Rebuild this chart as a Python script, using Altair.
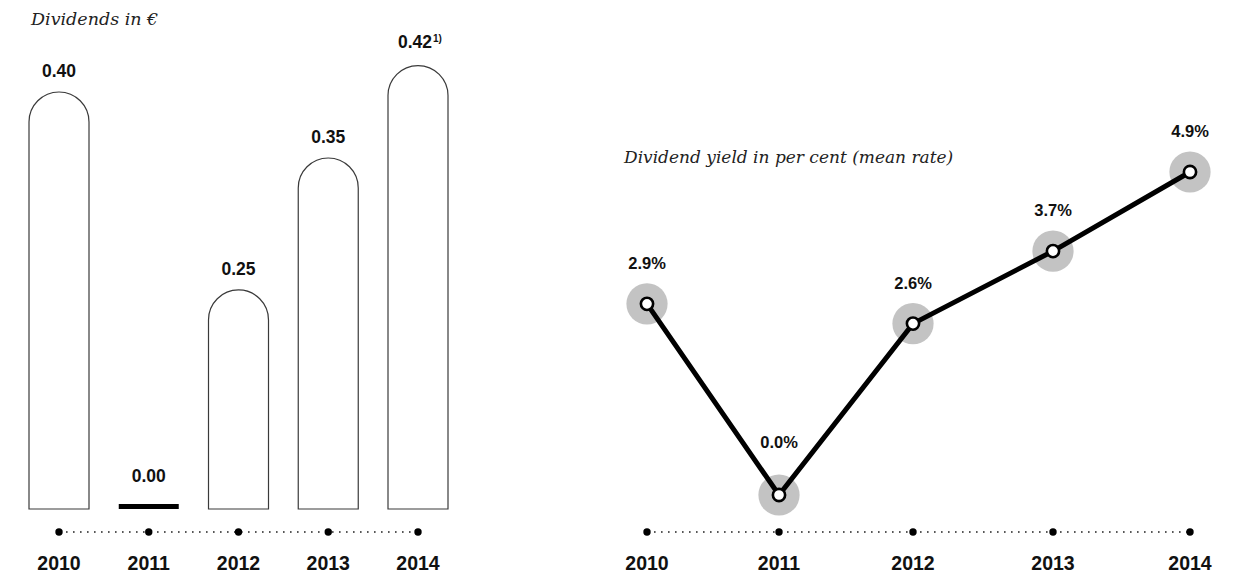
import altair as alt
import pandas as pd

# ---- data -----------------------------------------------------------
years = [2010, 2011, 2012, 2013, 2014]
dividends = [0.40, 0.00, 0.25, 0.35, 0.42]
dividend_notes = ["", "", "", "", "1)"]
yields = [2.9, 0.0, 2.6, 3.7, 4.9]

left_title = "Dividends in €"
right_title = "Dividend yield in per cent (mean rate)"

SANS = "Liberation Sans"
SERIF = "DejaVu Serif"
HALO = "#c3c3c3"

div_df = pd.DataFrame({"year": years, "dividend": dividends, "note": dividend_notes})
yld_df = pd.DataFrame({"year": years, "yield": yields})

# ---- left panel: dividends ------------------------------------------
x_scale_l = alt.Scale(domain=[2010, 2014], range=[59, 418], padding=0, nice=False)
xl = alt.X("year:Q", axis=None, scale=x_scale_l)
yl = alt.Y("dividend:Q", axis=None,
           scale=alt.Scale(domain=[0.084, 0.42], range=[509, 65.6], clamp=True,
                           zero=False, nice=False))

base_l = alt.Chart(div_df).transform_calculate(
    lbl="format(datum.dividend, '.2f')", base="0"
)

bars = base_l.transform_filter("datum.dividend > 0").mark_bar(
    size=60, fill="white", stroke="#3a3a3a", strokeWidth=1.2,
    cornerRadiusTopLeft=30, cornerRadiusTopRight=30,
).encode(x=xl, y=yl, y2="base:Q")

zero_bar = base_l.transform_filter("datum.dividend == 0").mark_rule(
    color="black", strokeWidth=5, xOffset=-30, x2Offset=30, yOffset=-2.5,
).encode(x=xl, x2="year:Q", y=yl)

txt_l = dict(font=SANS, fontWeight="bold", fontSize=17.5, color="#111", baseline="middle")

labels_main = base_l.transform_filter(
    "datum.dividend > 0 && datum.year != 2014"
).mark_text(dy=-20, **txt_l).encode(x=xl, y=yl, text="lbl:N")

label_zero = base_l.transform_filter("datum.dividend == 0").mark_text(
    dy=-32, **txt_l).encode(x=xl, y=yl, text="lbl:N")

label_last = base_l.transform_filter("datum.note != ''").mark_text(
    dy=-23, dx=-3, **txt_l).encode(x=xl, y=yl, text="lbl:N")

label_note = base_l.transform_filter("datum.note != ''").mark_text(
    dy=-27, dx=15, align="left", font=SANS, fontWeight="bold", fontSize=10,
    color="#111", baseline="middle",
).encode(x=xl, y=yl, text="note:N")

axis_line_l = alt.Chart(div_df).mark_rule(
    color="#222", strokeWidth=1.6, strokeDash=[1.6, 5.4],
).encode(
    x=alt.X("min(year):Q", scale=x_scale_l, axis=None),
    x2="max(year):Q", y=alt.value(532),
)

axis_dots_l = alt.Chart(div_df).mark_circle(size=55, color="black", opacity=1).encode(
    x=xl, y=alt.value(532))

year_lbl_l = alt.Chart(div_df).mark_text(
    font=SANS, fontWeight="bold", fontSize=19.5, color="#111", baseline="middle",
).encode(x=xl, y=alt.value(564), text="year:N")

title_l = alt.Chart(pd.DataFrame({"t": [left_title]})).mark_text(
    font=SERIF, fontStyle="italic", fontSize=17.5, color="#222",
    align="left", baseline="alphabetic",
).encode(x=alt.value(31), y=alt.value(25), text="t:N")

left = alt.layer(
    bars, zero_bar, labels_main, label_zero, label_last, label_note,
    axis_line_l, axis_dots_l, year_lbl_l, title_l,
).properties(width=600, height=577)

# ---- right panel: dividend yield -------------------------------------
# piecewise year scale: the year stops are not evenly spaced
x_scale_r = alt.Scale(domain=years, range=[47, 179, 313, 453, 590], padding=0, nice=False)
xr = alt.X("year:Q", axis=None, scale=x_scale_r)
yr = alt.Y("yield:Q", axis=None,
           scale=alt.Scale(domain=[0, 4.9], range=[495, 172], nice=False))

base_r = alt.Chart(yld_df).transform_calculate(
    lbl="format(datum.yield, '.1f') + '%'"
)

halos = base_r.mark_circle(size=1700, color=HALO, opacity=1).encode(x=xr, y=yr)
line = base_r.mark_line(color="black", strokeWidth=5).encode(x=xr, y=yr)
points = base_r.mark_point(
    size=150, filled=True, fill="white", stroke="black", strokeWidth=2.6, opacity=1,
).encode(x=xr, y=yr)

txt_r = dict(font=SANS, fontWeight="bold", fontSize=16.5, color="#111", baseline="middle")
labels_r = base_r.transform_filter("datum.yield > 0").mark_text(
    dy=-40, **txt_r).encode(x=xr, y=yr, text="lbl:N")
label_r0 = base_r.transform_filter("datum.yield == 0").mark_text(
    dy=-52, **txt_r).encode(x=xr, y=yr, text="lbl:N")

axis_line_r = alt.Chart(yld_df).mark_rule(
    color="#222", strokeWidth=1.6, strokeDash=[1.6, 5.4],
).encode(
    x=alt.X("min(year):Q", scale=x_scale_r, axis=None),
    x2="max(year):Q", y=alt.value(532),
)

axis_dots_r = alt.Chart(yld_df).mark_circle(size=55, color="black", opacity=1).encode(
    x=xr, y=alt.value(532))

year_lbl_r = alt.Chart(yld_df).mark_text(
    font=SANS, fontWeight="bold", fontSize=19.5, color="#111", baseline="middle",
).encode(x=xr, y=alt.value(564), text="year:N")

title_r = alt.Chart(pd.DataFrame({"t": [right_title]})).mark_text(
    font=SERIF, fontStyle="italic", fontSize=17, color="#222",
    align="left", baseline="alphabetic",
).encode(x=alt.value(24), y=alt.value(163), text="t:N")

right = alt.layer(
    halos, line, points, labels_r, label_r0,
    axis_line_r, axis_dots_r, year_lbl_r, title_r,
).properties(width=639, height=577)

chart = alt.hconcat(left, right, spacing=0).properties(
    padding=0, background="white"
).configure_view(stroke=None)

chart.save("out.html", embed_options={"renderer": "svg", "actions": False})
